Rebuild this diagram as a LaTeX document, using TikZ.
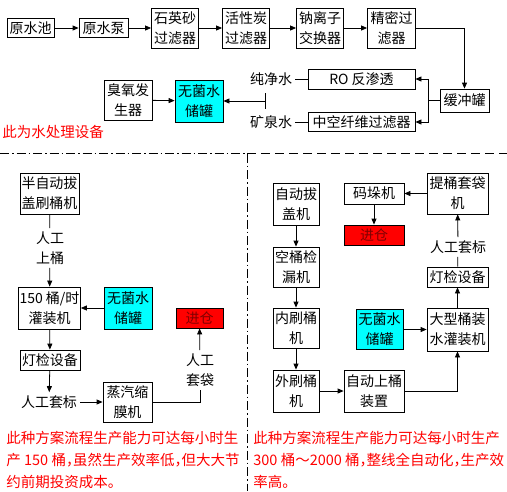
\documentclass[tikz,border=0pt]{standalone}
\usepackage{fontspec}
\newfontfamily\cjk{Noto Sans CJK SC}
\usetikzlibrary{arrows.meta}

\definecolor{aqua}{RGB}{0,255,255}
\newcommand{\narrowcomma}{\makebox[7pt][l]{，}}

\tikzset{
  box/.style={draw, align=center, inner sep=1pt, font=\cjk\fontsize{14}{20}\selectfont},
  tank/.style={box, fill=aqua},
  store/.style={box, fill=red, text=red!50!black},
  lbl/.style={align=center, inner sep=3pt, font=\cjk\fontsize{14}{20}\selectfont},
  note/.style={red, align=left, inner sep=0pt, font=\cjk\fontsize{14.5}{22}\selectfont},
  sep/.style={line width=0.6pt, dash pattern=on 9pt off 3pt on 1.5pt off 3pt}
}

\begin{document}
\begin{tikzpicture}[x=1pt, y=-1pt, >={Triangle[length=6pt,width=5pt]}, line width=0.8pt]
    \useasboundingbox (0,0) rectangle (507,491);

    % Water treatment (top)
    \node[box, minimum width=47, minimum height=19] (pool) at (30.5,28) {原水池};
    \node[box, minimum width=49, minimum height=19] (pump) at (103.5,28) {原水泵};
    \node[box, minimum width=47, minimum height=40] (sand) at (175,28) {石英砂\\过滤器};
    \node[box, minimum width=47, minimum height=40] (carbon) at (246,28) {活性炭\\过滤器};
    \node[box, minimum width=47, minimum height=40] (ion) at (320,28) {钠离子\\交换器};
    \node[box, minimum width=48, minimum height=40] (fine) at (391.5,28) {精密过\\滤器};
    \node[box, minimum width=49, minimum height=23] (buffer) at (464.5,100.5) {缓冲罐};
    \node[box, minimum width=107, minimum height=20] (ro) at (361.5,79) {RO 反渗透};
    \node[box, minimum width=107, minimum height=19] (hollow) at (361.5,122) {中空纤维过滤器};
    \node[tank, minimum width=48, minimum height=42] (sterileA) at (199,101) {无菌水\\储罐};
    \node[box, minimum width=48, minimum height=40] (ozone) at (128,100) {臭氧发\\生器};
    \node[lbl] (pure) at (271,79) {纯净水};
    \node[lbl] (mineral) at (271,122) {矿泉水};
    \coordinate (split) at (428,100.5);
    \coordinate (barT) at (265,93);
    \coordinate (barM) at (265,101);
    \coordinate (barB) at (265,109);

    \draw[->] (pool) -- (pump);
    \draw[->] (pump) -- (sand);
    \draw[->] (sand) -- (carbon);
    \draw[->] (carbon) -- (ion);
    \draw[->] (ion) -- (fine);
    \draw[->] (fine.east) -| (buffer.north);
    \draw (buffer.west) -- (split);
    \draw[->] (split) |- (ro.east);
    \draw[->] (split) |- (hollow.east);
    \draw (pure.east) -- (ro.west);
    \draw (mineral.east) -- (hollow.west);
    \draw (barT) -- (barB);
    \draw[->] (barM) -- (sterileA.east);
    \draw[->] (ozone) -- (sterileA);

    \node[note, anchor=west] (noteA) at (2,132) {此为水处理设备};

    % Separators
    \draw[sep] (0,153) -- (247,153) -- (247,491);
    \draw[sep, dash pattern=on 9pt off 5pt] (247,153) -- (507,153);

    % Semi-automatic line (left)
    \node[box, minimum width=59, minimum height=41] (brush) at (49.5,193.5) {半自动拔\\盖刷桶机};
    \node[lbl] (loadA) at (50,248) {人工\\上桶};
    \node[box, minimum width=59, minimum height=42] (fillA) at (49.5,308) {150 桶/时\\灌装机};
    \node[tank, minimum width=48, minimum height=42] (sterileB) at (128,308) {无菌水\\储罐};
    \node[store, minimum width=47, minimum height=20] (stockA) at (199.5,318) {进仓};
    \node[box, minimum width=60, minimum height=20] (lampA) at (50,360) {灯检设备};
    \node[lbl] (labelA) at (49,402) {人工套标};
    \node[box, minimum width=49, minimum height=40] (shrink) at (127.5,402) {蒸汽缩\\膜机};
    \node[lbl] (bagA) at (200,370) {人工\\套袋};

    \draw (brush) -- (loadA);
    \draw[->] (loadA) -- (fillA);
    \draw[->] (sterileB) -- (fillA);
    \draw[->] (fillA) -- (lampA);
    \draw[->] (lampA) -- (labelA);
    \draw[->] (labelA) -- (shrink);
    \draw (shrink.east) -| (bagA.south);
    \draw[->] (bagA) -- (stockA);

    \node[note, anchor=west] (noteB) at (6,460) {此种方案流程生产能力可达每小时生\\产 150 桶\narrowcomma 虽然生产效率低\narrowcomma 但大大节\\约前期投资成本。};

    % Automatic line (right)
    \node[box, minimum width=46, minimum height=42] (uncap) at (296,204) {自动拔\\盖机};
    \node[box, minimum width=46, minimum height=40] (leak) at (296,267) {空桶检\\漏机};
    \node[box, minimum width=46, minimum height=40] (inner) at (296,328) {内刷桶\\机};
    \node[box, minimum width=46, minimum height=42] (outer) at (296,391) {外刷桶\\机};
    \node[box, minimum width=60, minimum height=42] (feed) at (374,391) {自动上桶\\装置};
    \node[box, minimum width=61, minimum height=43] (fillB) at (457.5,329.5) {大型桶装\\水灌装机};
    \node[tank, minimum width=47, minimum height=40] (sterileC) at (379.5,329.5) {无菌水\\储罐};
    \node[box, minimum width=61, minimum height=20] (lampB) at (457.5,277) {灯检设备};
    \node[lbl] (labelB) at (458,247) {人工套标};
    \node[box, minimum width=61, minimum height=41] (bagB) at (457.5,193.5) {提桶套袋\\机};
    \node[box, minimum width=60, minimum height=21] (stack) at (374,193.5) {码垛机};
    \node[store, minimum width=60, minimum height=20] (stockB) at (374,235) {进仓};

    \draw[->] (uncap) -- (leak);
    \draw[->] (leak) -- (inner);
    \draw[->] (inner) -- (outer);
    \draw[->] (outer) -- (feed);
    \draw[->] (feed.east) -| (fillB.south);
    \draw[->] (sterileC) -- (fillB);
    \draw[->] (fillB) -- (lampB);
    \draw (lampB) -- (labelB);
    \draw[->] (labelB) -- (bagB);
    \draw[->] (bagB) -- (stack);
    \draw[->] (stack) -- (stockB);

    \node[note, anchor=west] (noteC) at (253,460) {此种方案流程生产能力可达每小时生产\\300 桶～2000 桶\narrowcomma 整线全自动化\narrowcomma 生产效\\率高。};
\end{tikzpicture}
\end{document}
